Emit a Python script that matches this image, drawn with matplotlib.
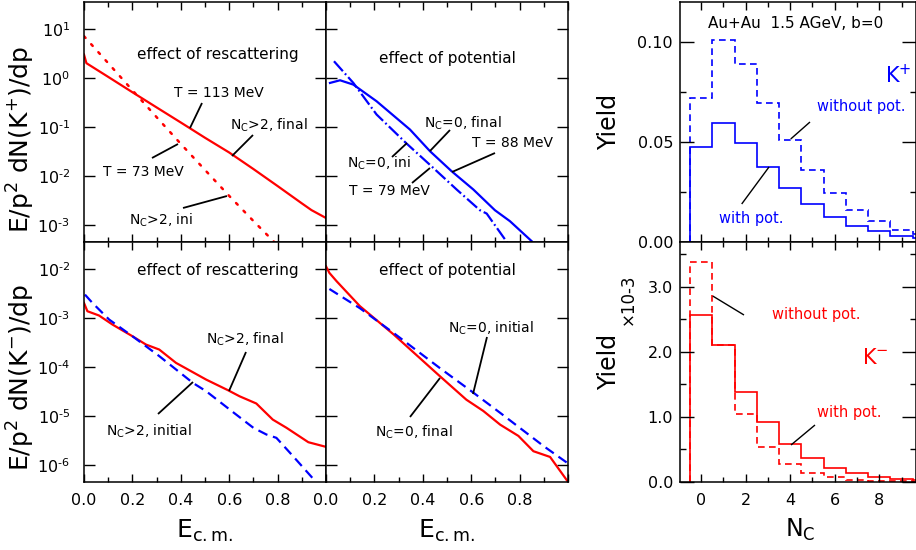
import matplotlib
matplotlib.use('Agg')
import matplotlib.pyplot as plt
import numpy as np
from matplotlib.ticker import (LogLocator, NullLocator, FixedLocator, MultipleLocator, FixedFormatter,
                               FormatStrFormatter, FuncFormatter)
from matplotlib.lines import Line2D

plt.rcParams['font.family'] = ['DejaVu Sans']
plt.rcParams['mathtext.fontset'] = 'dejavusans'

RED = '#ff0000'
BLUE = '#0000ff'

# ---------------- data ----------------
# K+ , effect of rescattering (N_C>2)
kp_resc_final_x = [0.0, 0.01, 0.1, 0.2, 0.3, 0.4, 0.5, 0.6, 0.7, 0.8, 0.9, 0.94, 1.0]
kp_resc_final_y = [3.0, 2.0, 1.05, 0.51, 0.25, 0.123, 0.060, 0.030, 0.0138, 0.0062, 0.00275, 0.0020, 0.00138]
kp_resc_ini_x = [0.0, 0.1, 0.2, 0.3, 0.4, 0.5, 0.6, 0.7, 0.8]
kp_resc_ini_y = [7.1, 2.0, 0.56, 0.158, 0.045, 0.0132, 0.0039, 0.0012, 0.00038]

# K+ , effect of potential (N_C=0)
kp_pot_final_x = [0.0165, 0.058, 0.113, 0.209, 0.347, 0.430, 0.519, 0.609, 0.698, 0.760, 0.850]
kp_pot_final_y = [0.79, 0.895, 0.73, 0.334, 0.0883, 0.0318, 0.01245, 0.00526, 0.00199, 0.00119, 0.000464]
kp_pot_ini_x = [0.033, 0.113, 0.209, 0.333, 0.436, 0.540, 0.636, 0.664, 0.740, 0.755]
kp_pot_ini_y = [2.19, 0.79, 0.179, 0.0457, 0.0157, 0.00526, 0.00199, 0.0017, 0.000502, 0.00040]

# K- , effect of rescattering (N_C>2)
km_resc_final_x = [0.0, 0.014, 0.062, 0.118, 0.2, 0.256, 0.311, 0.38, 0.505, 0.595, 0.643, 0.712, 0.78, 0.837, 0.927, 1.0]
km_resc_final_y = [2.02e-3, 1.37e-3, 1.12e-3, 7.3e-4, 4.23e-4, 2.86e-4, 2.26e-4, 1.21e-4, 5.5e-5, 3.34e-5,
                   2.51e-5, 1.79e-5, 8.4e-6, 5.7e-6, 2.9e-6, 2.33e-6]
km_resc_ini_x = [0.004, 0.035, 0.104, 0.2, 0.311, 0.45, 0.505, 0.616, 0.7, 0.754, 0.795, 0.864, 0.947]
km_resc_ini_y = [2.99e-3, 2.02e-3, 9.25e-4, 4.23e-4, 1.66e-4, 4.71e-5, 3.18e-5, 1.19e-5, 5.7e-6, 4.16e-6,
                 3.56e-6, 1.5e-6, 5.2e-7]

# K- , effect of potential (N_C=0)
km_pot_final_x = [0.0, 0.014, 0.044, 0.14, 0.28, 0.47, 0.58, 0.65, 0.72, 0.795, 0.857, 0.926, 1.0]
km_pot_final_y = [1.13e-2, 8.3e-3, 5.6e-3, 1.74e-3, 4.57e-4, 6.5e-5, 2.14e-5, 1.26e-5, 6.6e-6, 3.9e-6,
                  1.9e-6, 1.45e-6, 4.5e-7]
km_pot_ini_x = [0.014, 0.14, 0.28, 0.47, 0.61, 0.72, 0.90, 1.0]
km_pot_ini_y = [3.9e-3, 1.58e-3, 4.9e-4, 9.5e-5, 2.95e-5, 1.15e-5, 2.4e-6, 1.07e-6]

# N_C distributions (bins N_C = 0..10)
nc_edges = [-0.5, 0.5, 1.5, 2.5, 3.5, 4.5, 5.5, 6.5, 7.5, 8.5, 9.5, 10.5]
kp_without_pot = [0.072, 0.101, 0.089, 0.0696, 0.051, 0.036, 0.0244, 0.0158, 0.0103, 0.0061, 0.0040]
kp_with_pot = [0.0477, 0.0596, 0.0493, 0.0377, 0.0269, 0.0189, 0.0125, 0.0081, 0.0053, 0.0032, 0.0020]
km_without_pot = [3.38, 2.10, 1.04, 0.54, 0.28, 0.14, 0.072, 0.036, 0.02, 0.01, 0.006]   # x 10^-3
km_with_pot = [2.56, 2.11, 1.385, 0.918, 0.585, 0.369, 0.215, 0.138, 0.072, 0.046, 0.03]  # x 10^-3

e_ticks = [0.0, 0.2, 0.4, 0.6, 0.8, 1.0]
e_ticklabels = ['0.0', '0.2', '0.4', '0.6', '0.8', '']

# ---------------- figure ----------------
W, H = 916, 550
fig = plt.figure(figsize=(W / 100, H / 100), dpi=100)


def decade_fmt(v, pos):
    e = int(round(np.log10(v)))
    s = str(e).replace('-', '\u2010')
    return r'$\mathregular{10^{' + s + r'}}$'


def add_ax(x0, x1, y0, y1):
    return fig.add_axes([x0 / W, 1 - y1 / H, (x1 - x0) / W, (y1 - y0) / H])


def fx(x):
    return x / W


def fy(y):
    return 1 - y / H


def ftext(x, y, s, **kw):
    ha = kw.pop('ha', 'center')
    va = kw.pop('va', 'center')
    fig.text(fx(x), fy(y), s, ha=ha, va=va, **kw)


def fline(x0, y0, x1, y1, color='black', lw=1.3):
    fig.add_artist(Line2D([fx(x0), fx(x1)], [fy(y0), fy(y1)], transform=fig.transFigure,
                          color=color, lw=lw, solid_capstyle='butt'))


def style_common(ax):
    for s in ax.spines.values():
        s.set_linewidth(1.1)
    ax.tick_params(which='both', direction='in', top=True, right=True, labelsize=11.5, width=1.0,
                   pad=8)


def style_log(ax, ylo, yhi, xlabels, ylabels):
    style_common(ax)
    ax.set_yscale('log')
    ax.set_ylim(10 ** ylo, 10 ** yhi)
    ax.set_xlim(0, 1.0)
    ax.yaxis.set_major_locator(LogLocator(base=10, numticks=20))
    ax.yaxis.set_minor_locator(NullLocator())
    ax.yaxis.set_major_formatter(FuncFormatter(decade_fmt))
    ax.xaxis.set_major_locator(FixedLocator(e_ticks))
    ax.xaxis.set_major_formatter(FixedFormatter(e_ticklabels))
    ax.xaxis.set_minor_locator(MultipleLocator(0.1))
    ax.tick_params(axis='y', which='major', length=8, labelsize=11.5)
    ax.tick_params(axis='x', which='major', length=6)
    ax.tick_params(axis='x', which='minor', length=3.5)
    ax.tick_params(axis='y', pad=10)
    if not xlabels:
        ax.tick_params(axis='x', labelbottom=False)
    if not ylabels:
        ax.tick_params(axis='y', labelleft=False)


LW = 1.6

# Top-left: K+ rescattering
axA = add_ax(84, 326, 2, 242)
style_log(axA, -3.35, 1.55, False, True)
axA.plot(kp_resc_final_x, kp_resc_final_y, color=RED, lw=LW)
axA.plot(kp_resc_ini_x, kp_resc_ini_y, color=RED, lw=1.8, linestyle=(0, (0.9, 3.4)),
         dash_capstyle='round')

# Top-middle: K+ potential
axB = add_ax(326, 568, 2, 242)
style_log(axB, -3.35, 1.55, False, False)
axB.plot(kp_pot_final_x, kp_pot_final_y, color=BLUE, lw=LW)
axB.plot(kp_pot_ini_x, kp_pot_ini_y, color=BLUE, lw=LW, linestyle=(0, (6, 1.4, 0.8, 1.4)))

# Bottom-left: K- rescattering
axC = add_ax(84, 326, 242, 482)
style_log(axC, -6.35, -1.45, True, True)
axC.plot(km_resc_final_x, km_resc_final_y, color=RED, lw=LW)
axC.plot(km_resc_ini_x, km_resc_ini_y, color=BLUE, lw=LW, linestyle=(0, (4.5, 2.6)))

# Bottom-middle: K- potential
axD = add_ax(326, 568, 242, 482)
style_log(axD, -6.35, -1.45, True, False)
axD.plot(km_pot_final_x, km_pot_final_y, color=RED, lw=LW)
axD.plot(km_pot_ini_x, km_pot_ini_y, color=BLUE, lw=LW, linestyle=(0, (4.5, 2.6)))


def style_hist(ax, ymax, major, minor, fmt, xlabels):
    style_common(ax)
    ax.set_xlim(-0.95, 9.65)
    ax.set_ylim(0, ymax)
    ax.xaxis.set_major_locator(MultipleLocator(2))
    ax.xaxis.set_minor_locator(MultipleLocator(1))
    ax.yaxis.set_major_locator(MultipleLocator(major))
    ax.yaxis.set_minor_locator(MultipleLocator(minor))
    ax.yaxis.set_major_formatter(FormatStrFormatter(fmt))
    ax.tick_params(axis='y', which='major', length=10, pad=5)
    ax.tick_params(axis='y', which='minor', length=4.5)
    ax.tick_params(axis='x', which='major', length=6)
    ax.tick_params(axis='x', which='minor', length=3.5)
    if not xlabels:
        ax.tick_params(axis='x', labelbottom=False)


HLW = 1.2
axE = add_ax(680, 916, 2, 242)
style_hist(axE, 0.12, 0.05, 0.025, '%.2f', False)
axE.stairs(kp_without_pot, nc_edges, baseline=0, color=BLUE, lw=HLW, linestyle=(0, (4, 2.6)))
axE.stairs(kp_with_pot, nc_edges, baseline=0, color=BLUE, lw=HLW)

axF = add_ax(680, 916, 242, 482)
style_hist(axF, 3.69, 1.0, 0.5, '%.1f', True)
axF.stairs(km_without_pot, nc_edges, baseline=0, color=RED, lw=HLW, linestyle=(0, (4, 2.6)))
axF.stairs(km_with_pot, nc_edges, baseline=0, color=RED, lw=HLW)

# ---------------- labels ----------------
ftext(21, 140, r'E/p$^2$ dN(K$^{+}$)/dp', fontsize=18, rotation=90)
ftext(21, 378, r'E/p$^2$ dN(K$^{-}$)/dp', fontsize=18, rotation=90)
ftext(205, 538, r'E$_{\mathrm{c.m.}}$', fontsize=18, va='baseline')
ftext(447, 538, r'E$_{\mathrm{c.m.}}$', fontsize=18, va='baseline')
ftext(800, 537, r'N$_{\mathrm{C}}$', fontsize=17, va='baseline')
ftext(609, 122, 'Yield', fontsize=17, rotation=90)
ftext(609, 362, 'Yield', fontsize=17, rotation=90)
ftext(628, 299, '×10-3', fontsize=12, rotation=90)

AF = 10
# top-left annotations
ftext(218, 55, 'effect of rescattering', fontsize=11)
ftext(219, 93, 'T = 113 MeV', fontsize=AF)
fline(190, 128, 202, 103)
ftext(269, 125, r'N$_{\mathrm{C}}$>2, final', fontsize=AF)
fline(232, 156, 253, 135)
ftext(143, 172, 'T = 73 MeV', fontsize=AF)
fline(152, 158, 178, 144)
ftext(161, 220, r'N$_{\mathrm{C}}$>2, ini', fontsize=AF)
fline(183, 208, 227, 196)

# top-middle annotations
ftext(447.5, 59, 'effect of potential', fontsize=11)
ftext(462.5, 123, r'N$_{\mathrm{C}}$=0, final', fontsize=AF)
fline(430, 151, 450, 130)
ftext(513, 143, 'T = 88 MeV', fontsize=AF)
fline(452, 172, 495, 153)
ftext(379.5, 163, r'N$_{\mathrm{C}}$=0, ini', fontsize=AF)
fline(392, 157, 407, 143)
ftext(389, 191, 'T = 79 MeV', fontsize=AF)
fline(412, 183, 430, 168)

# bottom-left annotations
ftext(218, 270, 'effect of rescattering', fontsize=11)
ftext(244.5, 339, r'N$_{\mathrm{C}}$>2, final', fontsize=AF)
fline(229, 391, 246, 352)
ftext(149, 431, r'N$_{\mathrm{C}}$>2, initial', fontsize=AF)
fline(158, 414, 193, 382)

# bottom-middle annotations
ftext(447.5, 270, 'effect of potential', fontsize=11)
ftext(490.5, 328, r'N$_{\mathrm{C}}$=0, initial', fontsize=AF)
fline(473, 394, 487, 337)
ftext(413.5, 432, r'N$_{\mathrm{C}}$=0, final', fontsize=AF)
fline(410, 417, 440, 378)

# right panels
ftext(796, 23, 'Au+Au  1.5 AGeV, b=0', fontsize=11)
ftext(898, 75, r'K$^{+}$', fontsize=15, color=BLUE)
ftext(861.5, 107, 'without pot.', fontsize=10.5, color=BLUE)
fline(790.7, 139, 810, 122, lw=1.0)
ftext(751, 218, 'with pot.', fontsize=10.5, color=BLUE)
fline(741.7, 204, 769, 167, lw=1.0)

ftext(816, 315, 'without pot.', fontsize=10.5, color=RED)
fline(712.7, 296, 744, 315, lw=1.0)
ftext(875, 358, r'K$^{-}$', fontsize=15, color=RED)
ftext(849.5, 413, 'with pot.', fontsize=10.5, color=RED)
fline(791, 445, 815, 425, lw=1.0)

fig.savefig('out.png', dpi=100)
